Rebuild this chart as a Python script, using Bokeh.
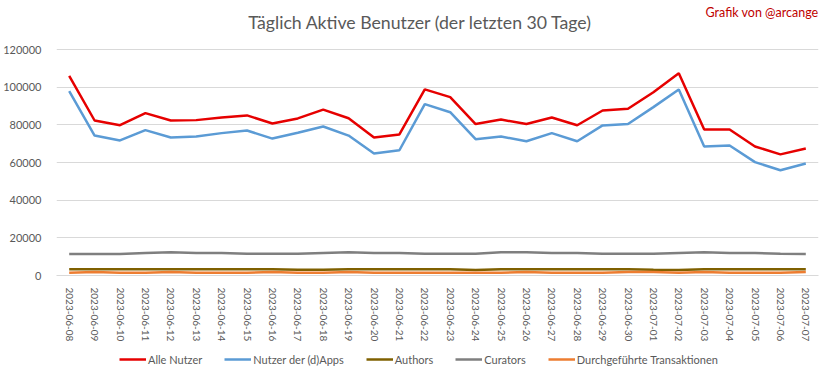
from bokeh.plotting import figure
from bokeh.layouts import column
from bokeh.models import FactorRange, Range1d, Legend, LegendItem, Label, FixedTicker, NumeralTickFormatter
from bokeh.embed import file_html
from bokeh.resources import INLINE

dates = ["2023-06-08", "2023-06-09", "2023-06-10", "2023-06-11", "2023-06-12", "2023-06-13",
         "2023-06-14", "2023-06-15", "2023-06-16", "2023-06-17", "2023-06-18", "2023-06-19",
         "2023-06-20", "2023-06-21", "2023-06-22", "2023-06-23", "2023-06-24", "2023-06-25",
         "2023-06-26", "2023-06-27", "2023-06-28", "2023-06-29", "2023-06-30", "2023-07-01",
         "2023-07-02", "2023-07-03", "2023-07-04", "2023-07-05", "2023-07-06", "2023-07-07"]

alle_nutzer = [106000, 82300, 79800, 86200, 82300, 82500, 83900, 85000, 80700, 83400,
               88100, 83500, 73300, 74900, 98800, 94700, 80400, 82800, 80400, 83900,
               79800, 87600, 88500, 97300, 107400, 77500, 77500, 68500, 64300, 67400]

dapps = [97900, 74300, 71700, 77200, 73300, 73800, 75600, 77000, 72700, 75800,
         79100, 74300, 64800, 66500, 91000, 86700, 72400, 73800, 71300, 75600,
         71300, 79700, 80400, 89400, 98800, 68500, 69000, 60200, 55900, 59500]

authors = [3300, 3300, 3300, 3300, 3300, 3300, 3300, 3300, 3300, 3000,
           3000, 3300, 3300, 3300, 3300, 3300, 2900, 3300, 3300, 3300,
           3300, 3300, 3300, 3000, 2900, 3300, 3300, 3300, 3300, 3300]

curators = [11400, 11400, 11400, 11900, 12300, 12000, 12000, 11500, 11500, 11500,
            11900, 12300, 12000, 12000, 11500, 11500, 11500, 12300, 12400, 12000,
            12000, 11500, 11500, 11500, 11900, 12300, 12000, 12000, 11500, 11400]

transaktionen = [1400, 1900, 1400, 1400, 1900, 1400, 1400, 1400, 1900, 1400,
                 1400, 1900, 1400, 1400, 1400, 1400, 1400, 1400, 1900, 1400,
                 1400, 1400, 1900, 1900, 1400, 1900, 1400, 1400, 1400, 1800]

y_ticks = [0, 20000, 40000, 60000, 80000, 100000, 120000]

series_names = ["Alle Nutzer", "Nutzer der (d)Apps", "Authors", "Curators", "Durchgeführte Transaktionen"]
series_values = [alle_nutzer, dapps, authors, curators, transaktionen]
series_colors = ["#E60000", "#5B9BD5", "#7F6000", "#7F7F7F", "#ED7D31"]

FONT = "Lato"
TXT = "#595959"

# frame covers the title area too: 120000 sits 49px below the frame top, 0 at 275px
FRAME_H = 275
Y_TOP = 120000 * FRAME_H / 226

p = figure(width=817, frame_width=762, frame_height=FRAME_H,
           x_range=FactorRange(*dates), y_range=Range1d(0, Y_TOP),
           output_backend="svg", toolbar_location=None,
           min_border_left=49, min_border_right=6, min_border_top=0, min_border_bottom=0)
p.outline_line_color = None
p.background_fill_color = "white"
p.border_fill_color = "white"

p.xgrid.grid_line_color = None
p.ygrid.grid_line_color = "#D9D9D9"
p.ygrid.ticker = FixedTicker(ticks=y_ticks)

p.yaxis.ticker = FixedTicker(ticks=y_ticks)
p.yaxis.formatter = NumeralTickFormatter(format="0")
p.yaxis.axis_line_color = None
p.yaxis.major_tick_line_color = None
p.yaxis.minor_tick_line_color = None
p.yaxis.major_label_standoff = 9
p.yaxis.major_label_text_font = FONT
p.yaxis.major_label_text_font_size = "11px"
p.yaxis.major_label_text_color = TXT

p.xaxis.axis_line_color = "#D9D9D9"
p.xaxis.major_tick_line_color = None
p.xaxis.minor_tick_line_color = None
p.xaxis.major_label_orientation = "vertical"
p.xaxis.major_label_standoff = 6
p.xaxis.major_label_text_font = FONT
p.xaxis.major_label_text_font_size = "10px"
p.xaxis.major_label_text_color = TXT

for name, vals, col in zip(series_names, series_values, series_colors):
    p.line(dates, vals, line_color=col, line_width=2.5)

title = Label(x=364, y=FRAME_H - 22, x_units="screen", y_units="screen",
              text="Täglich Aktive Benutzer (der letzten 30 Tage)",
              text_font=FONT, text_font_size="17.7px", text_color=TXT,
              text_align="center", text_baseline="middle")
p.add_layout(title)

credit = Label(x=762, y=FRAME_H - 12, x_units="screen", y_units="screen",
               text="Grafik von @arcange",
               text_font=FONT, text_font_size="12.5px", text_color="#C00000",
               text_align="right", text_baseline="middle")
p.add_layout(credit)

# legend strip below the chart
lf = figure(width=817, height=31, output_backend="svg", toolbar_location=None,
            min_border=0, x_range=Range1d(0, 1), y_range=Range1d(0, 1))
lf.axis.visible = False
lf.grid.visible = False
lf.outline_line_color = None
lf.border_fill_color = "white"
items = []
for name, col in zip(series_names, series_colors):
    r = lf.line(x=[-5, -4], y=[-5, -4], line_color=col, line_width=2.5)
    items.append(LegendItem(label=name, renderers=[r]))
legend = Legend(items=items, orientation="horizontal", location=(63, 9),
                border_line_color=None, background_fill_alpha=0,
                label_text_font=FONT, label_text_font_size="11px", label_text_color=TXT,
                glyph_width=27, glyph_height=14, label_height=14, label_standoff=2, spacing=22,
                padding=0, margin=0)
lf.add_layout(legend)

layout = column(p, lf, spacing=0)
open("out.html", "w").write(file_html(layout, INLINE))
